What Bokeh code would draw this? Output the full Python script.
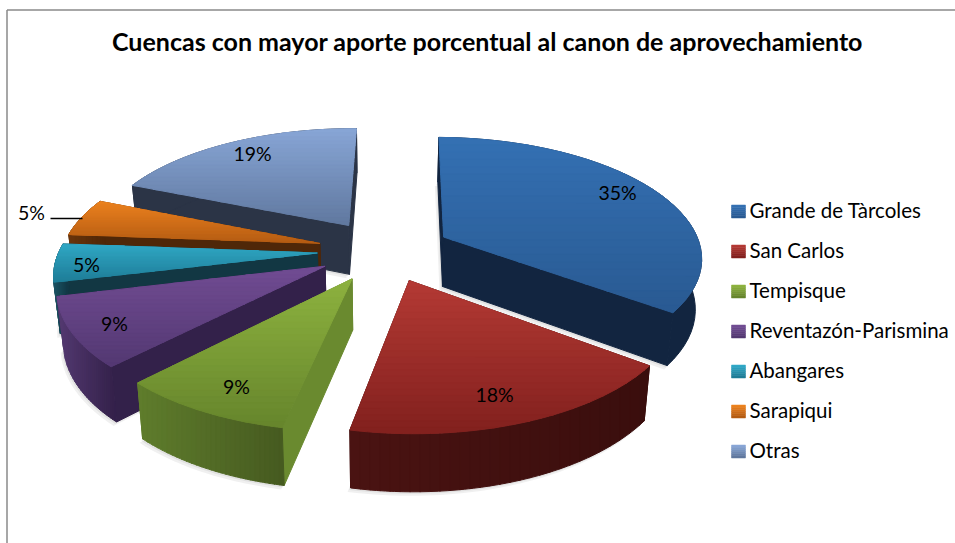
import math
from bokeh.plotting import figure
from bokeh.models import ColumnDataSource
from bokeh.core.properties import value
from bokeh.embed import file_html
from bokeh.resources import INLINE

TITLE = "Cuencas con mayor aporte porcentual al canon de aprovechamiento"
names = ["Grande de Tàrcoles", "San Carlos", "Tempisque", "Reventazón-Parismina", "Abangares", "Sarapiqui", "Otras"]
values = [35, 18, 9, 9, 5, 5, 19]

top_light = ["#3470B3", "#B43A34", "#8DB23F", "#714C93", "#30A8C6", "#EC821F", "#88A6D6"]
top_dark = ["#295A92", "#82201E", "#66852C", "#533872", "#1F7D97", "#B55C13", "#60789F"]
cut_col = ["#122540", "#3E0F0E", "#6A8A2F", "#33214A", "#123743", "#4F2708", "#2B3446"]
wall_left = ["#122540", "#4A1312", "#5F7D2C", "#553A72", "#1C5566", "#6A350C", "#2B3446"]
wall_right = ["#122540", "#3A0E0D", "#465A20", "#33214A", "#123743", "#4F2708", "#2B3446"]
paint_order = [6, 5, 4, 3, 2, 0, 1]

# layout: page pixels
W, H = 955, 543
CX, CY, A, B, PERSP, EXPLODE, DEPTH = 384, 250, 258, 119, 0.155, 0.26, 50
ROT, BOTTOM_X = math.radians(0.8), 0.98
label_pos = [(617, 191.5), (494, 393.5), (236, 385.5), (114, 322.5), (86, 263.5), (31, 211.5), (252, 152.5)]


def project(X, Y, drop=False):
    s = 1 / (1 + PERSP * Y)
    y = CY - B * Y * s
    x = A * X * s
    if drop:
        y += DEPTH * s ** 0.7
        x *= BOTTOM_X
    return (CX + x, y)


def hexrgb(c):
    return tuple(int(c[i:i + 2], 16) for i in (1, 3, 5))


def mix(c1, c2, t):
    a, b = hexrgb(c1), hexrgb(c2)
    return "#%02x%02x%02x" % tuple(round(a[i] + (b[i] - a[i]) * t) for i in range(3))


def clip(poly, axis, lo, hi):
    def half(pts, keep, cross):
        out = []
        for i, p in enumerate(pts):
            q = pts[(i + 1) % len(pts)]
            kp, kq = keep(p[axis]), keep(q[axis])
            if kp:
                out.append(p)
            if kp != kq:
                t = (cross - p[axis]) / (q[axis] - p[axis])
                out.append((p[0] + t * (q[0] - p[0]), p[1] + t * (q[1] - p[1])))
        return out
    pts = half(poly, lambda v: v >= lo, lo)
    if pts:
        pts = half(pts, lambda v: v <= hi, hi)
    return pts


xs, ys, fills, alphas, lines = [], [], [], [], []


def add(poly, col, alpha=1.0, line=True):
    xs.append([p[0] for p in poly])
    ys.append([p[1] for p in poly])
    fills.append(col)
    alphas.append(alpha)
    lines.append(1.0 if line else 0)


def gradient(poly, c1, c2, axis, n):
    vals = [p[axis] for p in poly]
    lo, hi = min(vals), max(vals)
    if c1 == c2 or hi - lo < 2:
        add(poly, c1)
        return
    for i in range(n):
        a = lo + (hi - lo) * i / n
        b = lo + (hi - lo) * (i + 1) / n + 0.6
        part = clip(poly, axis, a, b)
        if len(part) >= 3:
            add(part, mix(c1, c2, (i + 0.5) / n))


total = sum(values)
spans = []
acc = 0
for v in values:
    spans.append((acc / total * 2 * math.pi + ROT, (acc + v) / total * 2 * math.pi + ROT))
    acc += v

for i in paint_order:
    t0, t1 = spans[i]
    mid = (t0 + t1) / 2
    ox, oy = EXPLODE * math.sin(mid), EXPLODE * math.cos(mid)
    n = 40
    rim3 = [(ox + math.sin(t0 + (t1 - t0) * k / n), oy + math.cos(t0 + (t1 - t0) * k / n)) for k in range(n + 1)]
    rim_top = [project(*p) for p in rim3]
    rim_bot = [project(*p, drop=True) for p in rim3]
    apex_top = project(ox, oy)
    apex_bot = project(ox, oy, drop=True)

    outline = rim_bot + [apex_bot]
    for off in ((-3, 4), (-1.5, 2)):
        add([(x + off[0], y + off[1]) for x, y in outline], "#000000", 0.06, False)

    cuts = [(rim3[0], [apex_top, rim_top[0], rim_bot[0], apex_bot]),
            (rim3[-1], [apex_top, rim_top[-1], rim_bot[-1], apex_bot])]
    cuts.sort(key=lambda c: -c[0][1])
    for _, quad in cuts:
        add(quad, cut_col[i])
    gradient(rim_top + rim_bot[::-1], wall_left[i], wall_right[i], 0, 30)
    gradient([apex_top] + rim_top, top_light[i], top_dark[i], 1, 24)

p = figure(width=W, height=H, x_range=(0, W), y_range=(H, 0), output_backend="svg",
           toolbar_location=None, min_border=0, outline_line_color=None)
p.axis.visible = False
p.grid.visible = False

p.segment([6.5, 6.5], [9.5, 9.5], [W, 6.5], [9.5, H], line_color="#8A8A8A", line_width=1.5)
p.patches("xs", "ys", source=ColumnDataSource(dict(xs=xs, ys=ys, f=fills, a=alphas, l=lines)),
          fill_color="f", fill_alpha="a", line_color="f", line_alpha="a", line_width="l")

FONT = value("Lato")
p.text([487], [40], text=[TITLE], text_font=FONT, text_font_style="bold", text_font_size="25px",
       text_align="center", text_baseline="middle", text_color="#000000")
p.text([q[0] for q in label_pos], [q[1] for q in label_pos], text=[f"{v}%" for v in values],
       text_font=FONT, text_font_size="19.5px", text_align="center", text_baseline="middle", text_color="#000000")
p.segment([50], [218], [82], [218], line_color="#000000", line_width=1.5)

legend_ys = [209.5 + k * 40 for k in range(len(names))]
sx, sy, sc = [], [], []
for k, ly in enumerate(legend_ys):
    for j in range(6):
        sx.append([731, 745, 745, 731])
        y0 = ly - 5 + 13 / 6 * j
        sy.append([y0, y0, y0 + 13 / 6, y0 + 13 / 6])
        sc.append(mix(top_light[k], top_dark[k], j / 5))
p.patches(sx, sy, fill_color=sc, line_color=sc, line_width=0.5)
p.text([749] * len(names), legend_ys, text=names, text_font=FONT, text_font_size="20.5px",
       text_align="left", text_baseline="middle", text_color="#000000")

open("out.html", "w").write(file_html(p, INLINE))
